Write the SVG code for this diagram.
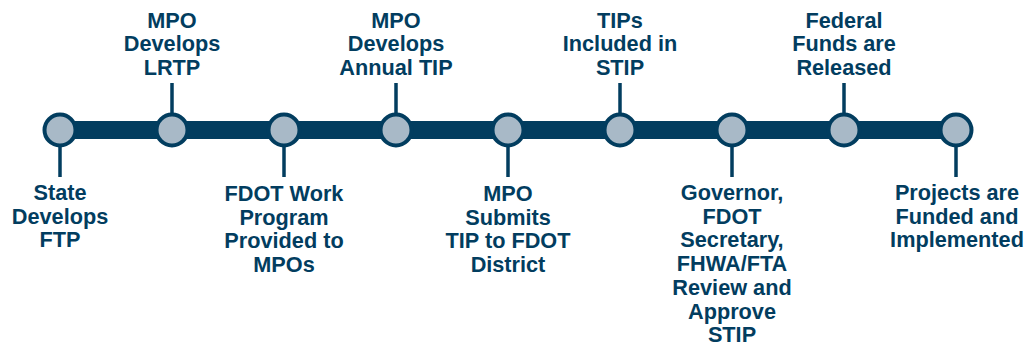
<svg xmlns="http://www.w3.org/2000/svg" width="1028" height="347" viewBox="0 0 1028 347">
<style>
.bar{fill:#023d5f}
.tick{stroke:#023d5f;stroke-width:3.5}
.dot{fill:#a8b9c7;stroke:#023d5f;stroke-width:4}
text{font-family:"Liberation Sans",Arial,sans-serif;font-weight:bold;font-size:21.7px;fill:#023d5f;text-anchor:middle}
</style>
<rect width="1028" height="347" fill="#ffffff"/>
<g id="connectors">
<rect class="bar" x="60" y="121" width="896" height="18"/>
<line class="tick" x1="60" y1="145" x2="60" y2="177"/>
<line class="tick" x1="172" y1="83" x2="172" y2="115"/>
<line class="tick" x1="284" y1="145" x2="284" y2="177"/>
<line class="tick" x1="396" y1="83" x2="396" y2="115"/>
<line class="tick" x1="508" y1="145" x2="508" y2="177"/>
<line class="tick" x1="620" y1="83" x2="620" y2="115"/>
<line class="tick" x1="732" y1="145" x2="732" y2="177"/>
<line class="tick" x1="844" y1="83" x2="844" y2="115"/>
<line class="tick" x1="956" y1="145" x2="956" y2="177"/>
</g>
<g id="n1"><circle class="dot" cx="60" cy="130" r="15.5"/><text x="60" y="200">State<tspan x="60" dy="23.7">Develops</tspan><tspan x="60" dy="23.7">FTP</tspan></text></g>
<g id="n2"><circle class="dot" cx="172" cy="130" r="15.5"/><text x="172" y="27.5">MPO<tspan x="172" dy="23.7">Develops</tspan><tspan x="172" dy="23.7">LRTP</tspan></text></g>
<g id="n3"><circle class="dot" cx="284" cy="130" r="15.5"/><text x="284" y="201">FDOT Work<tspan x="284" dy="23.7">Program</tspan><tspan x="284" dy="23.7">Provided to</tspan><tspan x="284" dy="23.7">MPOs</tspan></text></g>
<g id="n4"><circle class="dot" cx="396" cy="130" r="15.5"/><text x="396" y="27.5">MPO<tspan x="396" dy="23.7">Develops</tspan><tspan x="396" dy="23.7">Annual TIP</tspan></text></g>
<g id="n5"><circle class="dot" cx="508" cy="130" r="15.5"/><text x="508" y="201">MPO<tspan x="508" dy="23.7">Submits</tspan><tspan x="508" dy="23.7">TIP to FDOT</tspan><tspan x="508" dy="23.7">District</tspan></text></g>
<g id="n6"><circle class="dot" cx="620" cy="130" r="15.5"/><text x="620" y="27.5">TIPs<tspan x="620" dy="23.7">Included in</tspan><tspan x="620" dy="23.7">STIP</tspan></text></g>
<g id="n7"><circle class="dot" cx="732" cy="130" r="15.5"/><text x="732" y="200">Governor,<tspan x="732" dy="23.7">FDOT</tspan><tspan x="732" dy="23.7">Secretary,</tspan><tspan x="732" dy="23.7">FHWA/FTA</tspan><tspan x="732" dy="23.7">Review and</tspan><tspan x="732" dy="23.7">Approve</tspan><tspan x="732" dy="23.7">STIP</tspan></text></g>
<g id="n8"><circle class="dot" cx="844" cy="130" r="15.5"/><text x="844" y="27.5">Federal<tspan x="844" dy="23.7">Funds are</tspan><tspan x="844" dy="23.7">Released</tspan></text></g>
<g id="n9"><circle class="dot" cx="956" cy="130" r="15.5"/><text x="957" y="200">Projects are<tspan x="957" dy="23.7">Funded and</tspan><tspan x="957" dy="23.7">Implemented</tspan></text></g>
</svg>
